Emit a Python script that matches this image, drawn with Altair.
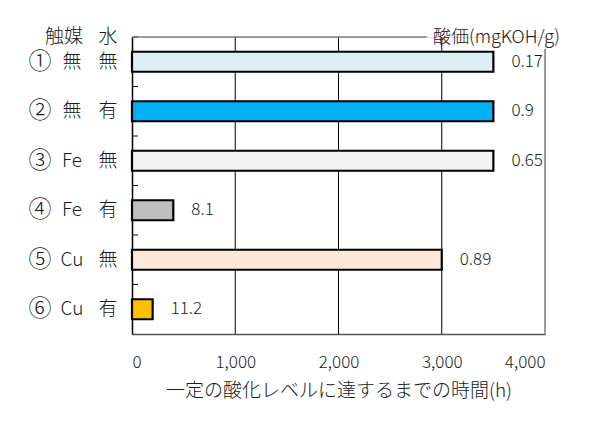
import altair as alt
import pandas as pd

nums = ["①", "②", "③", "④", "⑤", "⑥"]
catalyst = ["無", "無", "Fe", "Fe", "Cu", "Cu"]
water = ["無", "有", "無", "有", "無", "有"]
hours = [3500, 3500, 3500, 400, 3000, 200]
acid = ["0.17", "0.9", "0.65", "8.1", "0.89", "11.2"]
colors = ["#DAEEF3", "#00B0F0", "#F2F2F2", "#BFBFBF", "#FDE9D9", "#FFC000"]
x_ticks = [0, 1000, 2000, 3000, 4000]
grid_vals = [1000, 2000, 3000]
header_cat = "触媒"
header_water = "水"
header_right = "酸価(mgKOH/g)"
x_title = "一定の酸化レベルに達するまでの時間(h)"

FONT = "Noto Sans CJK JP"
TXT = "#1a1a1a"
W = 300

df = pd.DataFrame({"num": nums, "cat": catalyst, "water": water,
                   "hours": hours, "acid": acid, "color": colors})

yscale = alt.Scale(domain=nums, paddingInner=0, paddingOuter=0)
xscale = alt.Scale(domain=[0, 4000], nice=False)

base = alt.Chart(df)

bars = base.mark_bar(size=20, stroke="black", strokeWidth=2.2).encode(
    x=alt.X("hours:Q", scale=xscale,
            axis=alt.Axis(values=x_ticks, format=",d", grid=False, ticks=False,
                          labelFontSize=17, labelFont=FONT, labelColor=TXT,
                          labelFontWeight=W,
                          labelPadding=20, domainColor="#555555", domainWidth=1.5,
                          title=x_title, titleFont=FONT, titleFontSize=19,
                          titleFontWeight=W, titleColor=TXT, titlePadding=11)),
    y=alt.Y("num:N", scale=yscale,
            axis=alt.Axis(labels=False, ticks=False, title=None, grid=False,
                          domainColor="black", domainWidth=1.5)),
    fill=alt.Fill("color:N", scale=None),
)

grid = alt.Chart(pd.DataFrame({"g": grid_vals})).mark_rule(color="black", strokeWidth=1).encode(
    x=alt.X("g:Q", scale=xscale),
)

ticks = base.mark_rule(color="black", strokeWidth=1).encode(
    y=alt.Y("num:N", scale=yscale, bandPosition=0),
    x=alt.value(0), x2=alt.value(6),
)

one = pd.DataFrame({"a": [0]})
top_line = alt.Chart(one).mark_rule(color="#7f7f7f", strokeWidth=1.5).encode(
    x=alt.value(0), x2=alt.value(295), y=alt.value(0))
right_line = alt.Chart(one).mark_rule(color="#7f7f7f", strokeWidth=1.5).encode(
    x=alt.value(413), y=alt.value(12), y2=alt.value(297))

vals = base.mark_text(align="left", baseline="middle", dx=18, fontSize=17,
                      font=FONT, fontWeight=W, color=TXT).encode(
    x=alt.X("hours:Q", scale=xscale),
    y=alt.Y("num:N", scale=yscale),
    text="acid:N",
)

lab_num = base.mark_text(align="center", baseline="middle", fontSize=23,
                         font=FONT, fontWeight=W, color=TXT).encode(
    x=alt.value(-92), y=alt.Y("num:N", scale=yscale), text="num:N")
lab_cat = base.mark_text(align="center", baseline="middle", fontSize=19,
                         font=FONT, fontWeight=W, color=TXT).encode(
    x=alt.value(-60), y=alt.Y("num:N", scale=yscale), text="cat:N")
lab_water = base.mark_text(align="center", baseline="middle", fontSize=19,
                           font=FONT, fontWeight=W, color=TXT).encode(
    x=alt.value(-24), y=alt.Y("num:N", scale=yscale), text="water:N")

hdr_c = alt.Chart(one).mark_text(
    align="right", baseline="middle", fontSize=19, font=FONT, fontWeight=W, color=TXT,
    text=header_cat).encode(x=alt.value(-49), y=alt.value(0))
hdr_w = alt.Chart(one).mark_text(
    align="center", baseline="middle", fontSize=19, font=FONT, fontWeight=W, color=TXT,
    text=header_water).encode(x=alt.value(-24), y=alt.value(0))
hdr_r = alt.Chart(one).mark_text(
    align="left", baseline="middle", fontSize=18, font=FONT, fontWeight=W, color=TXT,
    text=header_right).encode(x=alt.value(301), y=alt.value(1))

chart = alt.layer(grid, bars, ticks, top_line, right_line, vals,
                  lab_num, lab_cat, lab_water, hdr_c, hdr_w, hdr_r).properties(
    width=413, height=297,
    padding={"left": 124, "top": 29, "right": 59, "bottom": 81},
    autosize=alt.AutoSizeParams(type="none"),
).configure_view(stroke=None).configure(background="white")

chart.save("out.html", embed_options={"renderer": "svg", "actions": False})
